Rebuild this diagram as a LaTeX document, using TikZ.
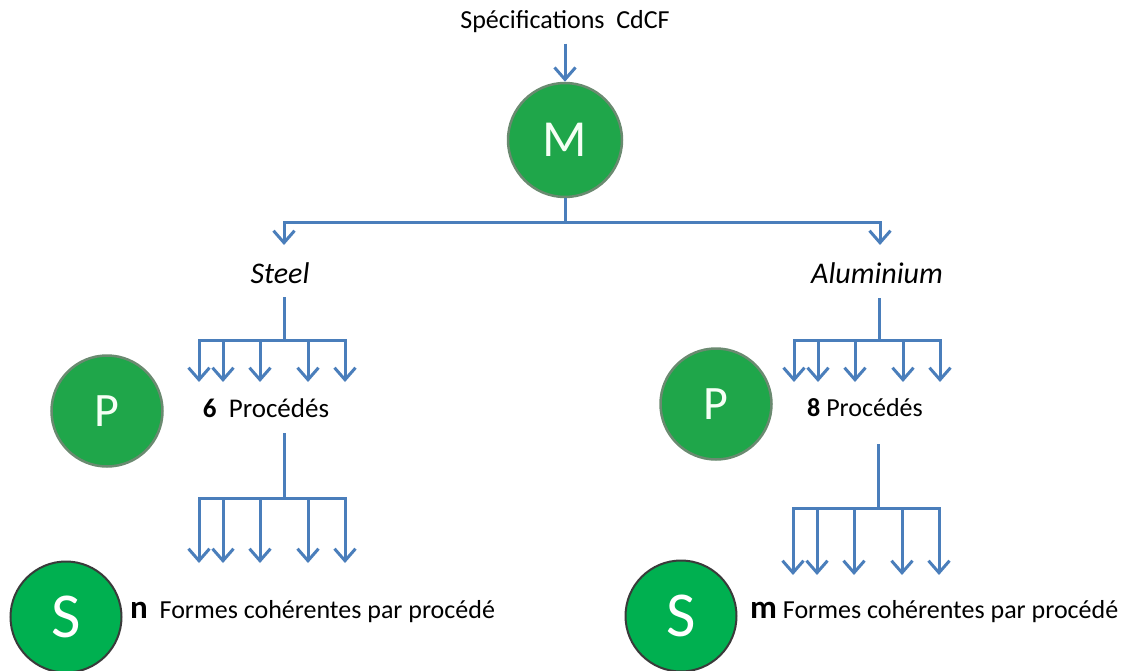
\documentclass[tikz,border=0pt]{standalone}
\usepackage{fontspec}
\setmainfont{Carlito}
\usetikzlibrary{calc,positioning,arrows.meta}
\definecolor{linkblue}{HTML}{4A7EBB}
\definecolor{ballgreen}{HTML}{1FA64A}
\definecolor{ballrim}{HTML}{6A8A70}
\definecolor{sgreen}{HTML}{00B050}
\definecolor{srim}{HTML}{3A3A3A}

\begin{document}
\begin{tikzpicture}[x=1pt,y=-1pt,> ={Straight Barb[length=12pt,width=21pt]}]
  \tikzset{
    link/.style={draw=linkblue, line width=3pt},
    ball/.style={circle, fill=ballgreen, draw=ballrim, line width=2.5pt,
      text=green!4, inner sep=0pt, minimum size=111pt},
    sball/.style={ball, fill=sgreen, draw=srim, line width=2pt, text=white,
      font=\fontsize{64}{64}\selectfont},
    txt/.style={font=\fontsize{26}{30}\selectfont},
    italictxt/.style={font=\fontsize{30}{34}\selectfont\itshape},
  }
  \useasboundingbox (0,0) rectangle (1129,671);

  % top
  \node[txt] (spec) at (565,22) {Spécifications\ \ CdCF};
  \node[ball,minimum size=114pt,font=\fontsize{52}{52}\selectfont] (M) at (565,140) {M};
  \draw[link,->,shorten <=7pt] (spec) -- (M);

  % materials
  \node[italictxt] (steel) at (280,273) {Steel};
  \node[italictxt] (alu) at (877,273) {Aluminium};
  \coordinate (split) at (565,222);
  \coordinate (steeltop) at (284,245);
  \coordinate (alutop) at (880,245);
  \draw[link] (M) -- (split);
  \draw[link,->] (split) -| (steeltop);
  \draw[link,->] (split) -| (alutop);

  % fans
  \foreach \i/\fx/\ty/\by/\ey in {1/284/297/340/382, 2/284/433/498/563,
                                  3/879/298/340/382, 4/878/444/508/575} {
    \coordinate (stem-\i) at (\fx,\ty);
    \coordinate (fork-\i) at (\fx,\by);
    \draw[link] (stem-\i) -- (fork-\i);
    \draw[link,->] (fork-\i) -| (\fx-85,\ey);
    \draw[link,->] (fork-\i) -| (\fx+61,\ey);
    \foreach \dx in {-61,-24,24}
      \draw[link,->] ($(fork-\i)+(\dx,0)$) -- (\fx+\dx,\ey);
  }

  % processes
  \node[ball,font=\fontsize{48}{48}\selectfont] (lP) at (107,411) {P};
  \node[ball,font=\fontsize{48}{48}\selectfont] (rP) at (716,404) {P};
  \node[font=\fontsize{27}{30}\selectfont] (lproc) at (266,408) {\textbf{6}\ \ Procédés};
  \node[txt] (rproc) at (865,408) {\textbf{8} Procédés};

  % shapes
  \node[sball] (lS) at (66,617) {S};
  \node[sball] (rS) at (681,616) {S};
  \node[txt,anchor=west,inner sep=0pt] (lforms) at (130,612)
    {{\fontsize{33}{33}\selectfont\bfseries n}\ \ Formes cohérentes par procédé};
  \node[txt,anchor=west,inner sep=0pt] (rforms) at (750,612)
    {{\fontsize{33}{33}\selectfont\bfseries m}\ Formes cohérentes par procédé};
\end{tikzpicture}
\end{document}
